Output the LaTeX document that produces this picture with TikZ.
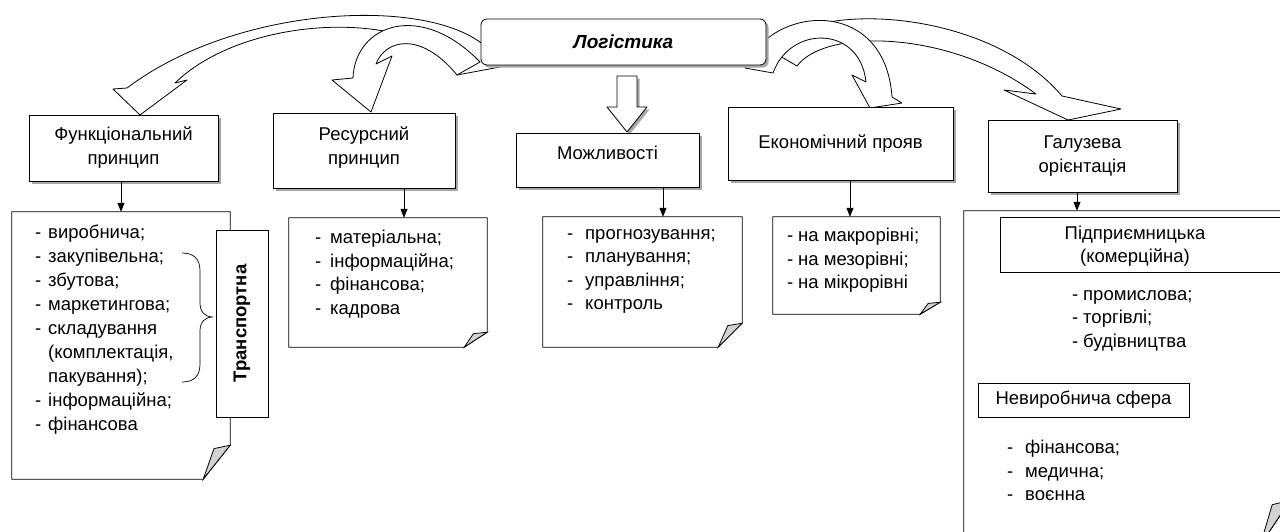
\documentclass[tikz,border=0pt]{standalone}
\usepackage{fontspec}
\setmainfont{Liberation Sans}
\usetikzlibrary{arrows.meta,positioning,calc,shadows}

% list line with a dash, and a continued line
\newcommand{\li}[2][13pt]{\makebox[#1][l]{-}#2}
\newcommand{\cont}[2][13pt]{\hspace*{#1}#2}
% outline of a note with a folded lower right corner
\newcommand{\fold}[3]{%
  \draw[note] (#1.north west) -- (#1.north east) -- ([yshift=#3]#1.south east)
    -- ([xshift=-#2]#1.south east) -- (#1.south west) -- cycle;
  \draw[note, fill=gray!35] ([yshift=#3]#1.south east)
    -- ([xshift=-0.6*#2, yshift=0.9*#3]#1.south east) -- ([xshift=-#2]#1.south east) -- cycle;}

\begin{document}
\begin{tikzpicture}[
  x=1pt, y=-1pt,
  >=Stealth,
  every node/.style={inner sep=2pt},
  hbox/.style={draw, fill=white, align=center, line width=0.8pt,
    font=\fontsize{18.5}{24}\selectfont,
    drop shadow={shadow xshift=2.5pt, shadow yshift=-2.5pt, fill=black!35, opacity=1}},
  items/.style={align=left, anchor=north west, inner sep=0pt,
    font=\fontsize{18.5}{23.5}\selectfont},
  area/.style={minimum width=#1, inner sep=0pt},
  note/.style={draw, line width=0.8pt, fill=white},
  curvy/.style={draw, fill=white, line width=0.8pt, line join=round},
  link/.style={-{Triangle[length=9pt,width=7pt]}, line width=0.8pt},
]
\useasboundingbox (0,0) rectangle (1280,531);
\clip (0,0) rectangle (1280,531);
\fill[white] (0,0) rectangle (1280,531);

% curved block arrows out of the top box
\draw[curvy] (773,52) .. controls (800,0) and (985,5) .. (1062,96) -- (1121,109) -- (1068,120)
  -- (1004,90) -- (1036,94) .. controls (950,30) and (825,28) .. (797,66) -- cycle;
\draw[curvy] (745,68) .. controls (770,5) and (885,-5) .. (892,97) -- (902,103) -- (870,108)
  -- (852,75) -- (866,82) .. controls (860,25) and (790,25) .. (773,73) -- cycle;
\draw[curvy] (500,67) .. controls (475,-5) and (250,-5) .. (127,88) -- (113,89) -- (140,115)
  -- (187,80) -- (175,83) .. controls (250,10) and (430,10) .. (457,75) -- cycle;
\draw[curvy] (480,62) .. controls (420,0) and (355,25) .. (353,78) -- (332,80) -- (371,112)
  -- (392,56) -- (376,64) .. controls (385,40) and (420,30) .. (457,75) -- cycle;

\node[hbox, rounded corners=6pt, minimum width=285pt, minimum height=46pt,
  font=\fontsize{19}{20}\selectfont\bfseries\itshape] (log) at (623.5,42) {Логістика};

% straight block arrow
\draw[curvy, drop shadow={shadow xshift=2.5pt, shadow yshift=-2.5pt, fill=black!35, opacity=1}]
  (617,76) -- ++(20,0) -- ++(0,31) -- ++(10,0) -- ++(-20,25) -- ++(-20,-25) -- ++(10,0) -- cycle;

% headings
\node[hbox, minimum width=189pt, minimum height=66pt] (func) at (123.5,148) {Функціональний\\принцип};
\node[hbox, minimum width=182pt, minimum height=75pt, text depth=9pt] (res) at (364,150.5) {Ресурсний\\принцип};
\node[hbox, minimum width=183pt, minimum height=54pt, text depth=14pt] (mozh) at (607.5,160) {Можливості};
\node[hbox, minimum width=225pt, minimum height=73pt] (econ) at (840.5,143.5) {Економічний прояв};
\node[hbox, minimum width=189pt, minimum height=72pt] (galuz) at (1082.5,156) {Галузева\\орієнтація};

% notes
\node[area=218pt, minimum height=267pt] (n1) at (121,345.5) {};
\node[area=198pt, minimum height=129pt] (n2) at (388,282.5) {};
\node[area=199pt, minimum height=130pt] (n3) at (642.5,282) {};
\node[area=167pt, minimum height=97pt] (n4) at (856.5,265.5) {};
\node[area=326pt, minimum height=334pt] (n5) at (1127,378) {};
\fold{n1}{27pt}{34pt}
\fold{n2}{23pt}{15pt}
\fold{n3}{24pt}{24pt}
\fold{n4}{20pt}{12pt}
\fold{n5}{30pt}{45pt}

\node[items, font=\fontsize{18.5}{24}\selectfont] (l1) at (35,225) {\li{виробнича;}\\ \li{закупівельна;}\\ \li{збутова;}\\
  \li{маркетингова;}\\ \li{складування}\\ \cont{(комплектація,}\\ \cont{пакування);}\\
  \li{інформаційна;}\\ \li{фінансова}};
\draw[line width=0.7pt] (182,253) .. controls (194,253) and (200,259) .. (200,271) -- (200,303)
  .. controls (200,312) and (205,317) .. (213,317) .. controls (205,317) and (200,322) .. (200,331)
  -- (200,364) .. controls (200,376) and (194,382) .. (182,382);
\node[draw, fill=white, line width=0.8pt, minimum width=52pt, minimum height=187pt,
  font=\fontsize{18.5}{20}\selectfont\bfseries] (tr) at (242,323.5) {\rotatebox{90}{Транспортна}};

\node[items] (l2) at (315,230) {\li[15pt]{матеріальна;}\\ \li[15pt]{інформаційна;}\\
  \li[15pt]{фінансова;}\\ \li[15pt]{кадрова}};
\node[items] (l3) at (567,229) {\li[18pt]{прогнозування;}\\ \li[18pt]{планування;}\\
  \li[18pt]{управління;}\\ \li[18pt]{контроль}};
\node[items] (l4) at (787,228) {\li[11pt]{на макрорівні;}\\ \li[11pt]{на мезорівні;}\\
  \li[11pt]{на мікрорівні}};

\node[draw, fill=white, line width=0.8pt, minimum width=285pt, minimum height=55pt] (pidpr) at (1142.5,244.5) {};
\node[align=center, font=\fontsize{18.5}{23}\selectfont] (pidprtxt) at (1135,246) {Підприємницька\\(комерційна)};
\node[items] (l5) at (1072,290) {\li[11pt]{промислова;}\\ \li[11pt]{торгівлі;}\\ \li[11pt]{будівництва}};
\node[draw, fill=white, line width=0.8pt, minimum width=211pt, minimum height=34pt,
  font=\fontsize{18.5}{20}\selectfont] (nevyr) at (1083.5,400) {Невиробнича сфера};
\node[items] (l6) at (1007,440) {\li[18pt]{фінансова;}\\ \li[18pt]{медична;}\\ \li[18pt]{воєнна}};

% links from headings to notes
\draw[link] ([xshift=-2.5pt]func.south) -- ([xshift=-2.5pt]func.south |- n1.north);
\draw[link] ([xshift=40pt]res.south) -- ([xshift=40pt]res.south |- n2.north);
\draw[link] ([xshift=55.5pt]mozh.south) -- ([xshift=55.5pt]mozh.south |- n3.north);
\draw[link] ([xshift=9.5pt]econ.south) -- ([xshift=9.5pt]econ.south |- n4.north);
\draw[link] ([xshift=-5.5pt]galuz.south) -- ([xshift=-5.5pt]galuz.south |- n5.north);

\end{tikzpicture}
\end{document}
